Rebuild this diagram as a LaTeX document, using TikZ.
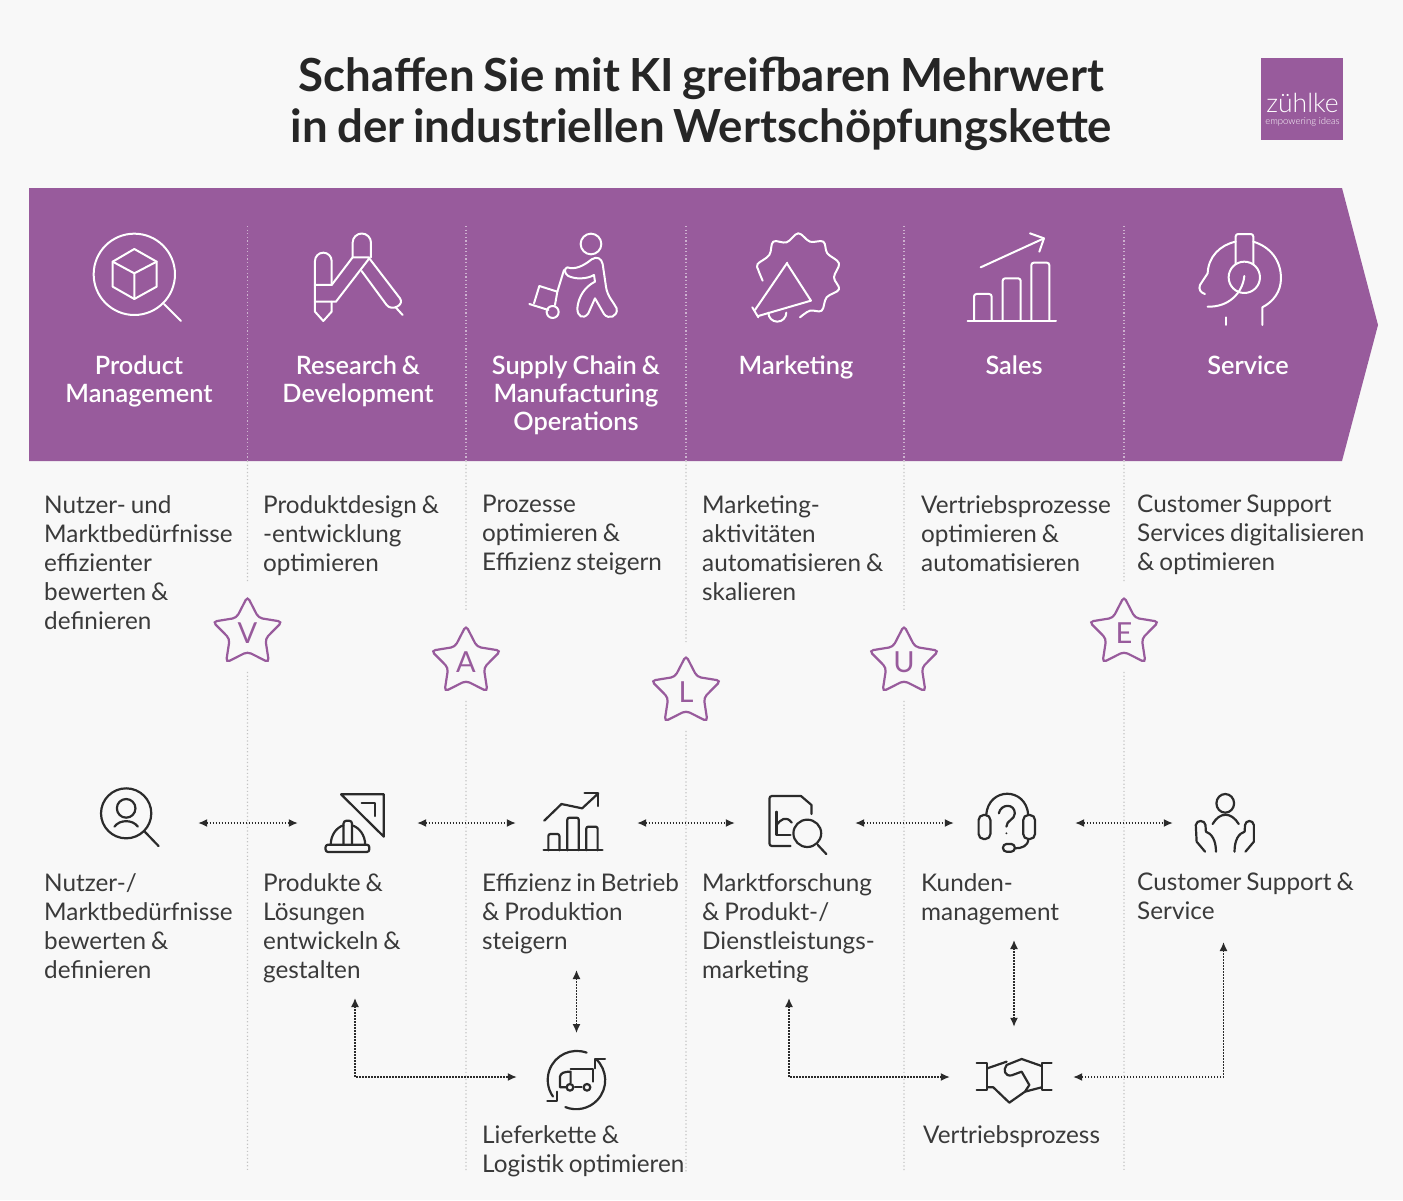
\documentclass[tikz,border=0pt]{standalone}
\usepackage{fontspec}
\setmainfont{Lato}[WordSpace=0.8]
\newfontfamily\latosemi{Lato Semibold}[WordSpace=0.8]
\newfontfamily\latolight{Lato Light}
\usetikzlibrary{arrows.meta,shapes.geometric}
\definecolor{bgcol}{HTML}{F8F8F8}
\definecolor{lila}{HTML}{985B9C}
\definecolor{txtcol}{HTML}{3A3A3A}
\definecolor{inkcol}{HTML}{2B2B2B}
\definecolor{griddark}{HTML}{C4C4C4}
\definecolor{gridlight}{HTML}{CDB2CF}
\tikzset{
  titlebox/.style={align=center, inner sep=0, text=black!85, font=\fontsize{45.6}{50.5}\selectfont\bfseries},
  headbox/.style={anchor=north, align=center, inner sep=0, text=white, font=\fontsize{25.3}{28}\latosemi},
  bodybox/.style={anchor=north west, align=left, inner sep=0, text=txtcol, font=\fontsize{24.3}{29}\selectfont},
  iconbox/.style={inner sep=0, minimum width=#1},
  iconW/.style={draw=white, line width=2pt, line cap=round, line join=round},
  iconB/.style={draw=inkcol, line width=2.2pt, line cap=round, line join=round},
  griddot/.style={line width=1.2pt, dash pattern=on 1.2pt off 2.4pt},
  dotarrow/.style={draw=inkcol, line width=1.4pt, dash pattern=on 1.4pt off 1.6pt, {Latex[length=9pt,width=8pt]}-{Latex[length=9pt,width=8pt]}},
  starbox/.style={star, star points=5, star point ratio=1.95, minimum size=73pt, inner sep=0, draw=lila, line width=2.2pt, rounded corners=4pt, text=lila, font=\fontsize{29}{29}\selectfont},
}
\begin{document}
\begin{tikzpicture}[x=1pt, y=-1pt]
  \useasboundingbox (0,0) rectangle (1403,1200);
  \fill[bgcol] (0,0) rectangle (1403,1200);
  \fill[lila] (29,188) -- (1342,188) -- (1378,325) -- (1342,461) -- (29,461) -- cycle;

  \node[titlebox] (titel) at (701.5,104) {Schaffen Sie mit KI greifbaren Mehrwert\\in der industriellen Wertschöpfungskette};

  \node[fill=lila, minimum width=81.5pt, minimum height=82pt, inner sep=0] (logo) at (1302,99) {};
  \node[text=white, inner sep=0, font=\fontsize{26.5}{27}\latolight] (logoname) at (1302.5,103) {zühlke};
  \node[text=white, inner sep=0, font=\fontsize{9.5}{11}\latolight] (logotag) at (1302.5,122) {empowering ideas};

  \foreach \x/\y/\l in {247.5/633/V, 466/662/A, 686/692/L, 904/662/U, 1124/633/E} {
    \node[starbox] (star\l) at (\x,\y) {\l};
    \coordinate (top\l) at (\x,226);
    \coordinate (band\l) at (\x,461);
    \coordinate (foot\l) at (\x,1172);
    \draw[griddot, gridlight] (top\l) -- (band\l);
    \draw[griddot, griddark, shorten >=11pt] (band\l) -- (star\l.north);
    \draw[griddot, griddark, shorten <=19pt] (star\l.south) -- (foot\l);
  }

  \node[headbox] (headProduct) at (139,356) {Product\\Management};
  \node[headbox] (headResearch) at (358,356) {Research \&\\Development};
  \node[headbox] (headSupply) at (576,356) {Supply Chain \&\\Manufacturing\\Operations};
  \node[headbox] (headMarketing) at (796,356) {Marketing};
  \node[headbox] (headSales) at (1014,356) {Sales};
  \node[headbox] (headService) at (1248,356) {Service};

  \node[bodybox] (textProduct) at (44,495) {Nutzer- und\\Marktbedürfnisse\\effizienter\\bewerten \&\\definieren};
  \node[bodybox] (textResearch) at (263,495) {Produktdesign \&\\-entwicklung\\optimieren};
  \node[bodybox] (textSupply) at (482,495) {Prozesse\\optimieren \&\\Effizienz steigern};
  \node[bodybox] (textMarketing) at (702,495) {Marketing-\\aktivitäten\\automatisieren \&\\skalieren};
  \node[bodybox] (textSales) at (921,495) {Vertriebsprozesse\\optimieren \&\\automatisieren};
  \node[bodybox] (textService) at (1137,495) {Customer Support\\Services digitalisieren\\\& optimieren};

  \node[bodybox] (textNutzer) at (44,873) {Nutzer-/\\Marktbedürfnisse\\bewerten \&\\definieren};
  \node[bodybox] (textProdukte) at (263,873) {Produkte \&\\Lösungen\\entwickeln \&\\gestalten};
  \node[bodybox] (textEffizienz) at (482,873) {Effizienz in Betrieb\\\& Produktion\\steigern};
  \node[bodybox] (textForschung) at (702,873) {Marktforschung\\\& Produkt-/\\Dienstleistungs-\\marketing};
  \node[bodybox] (textKunden) at (921,873) {Kunden-\\management};
  \node[bodybox] (textSupport) at (1137,873) {Customer Support \&\\Service};
  \node[bodybox] (textLogistik) at (482,1125) {Lieferkette \&\\Logistik optimieren};
  \node[bodybox] (textVertrieb) at (923,1125) {Vertriebsprozess};

  % anchors of the lower icons, the arrows stop at their borders
  \node[iconbox=136pt] (iconNutzer) at (130,823) {};
  \node[iconbox=119pt] (iconProdukte) at (357.5,823) {};
  \node[iconbox=121pt] (iconEffizienz) at (576.5,823) {};
  \node[iconbox=120pt] (iconForschung) at (795,823) {};
  \node[iconbox=121pt] (iconKunden) at (1014.5,823) {};
  \node[iconbox=102pt] (iconSupport) at (1224,823) {};
  \node[iconbox=119pt] (iconLogistik) at (576.5,1077) {};
  \node[iconbox=123pt, minimum height=100pt] (iconVertrieb) at (1011.5,1077) {};
  \coordinate (fussProdukte) at (355,998);
  \coordinate (fussEffizienz) at (576.5,970);
  \coordinate (fussForschung) at (789,998);
  \coordinate (fussKunden) at (1014,940);
  \coordinate (fussSupport) at (1223.5,942);
  \coordinate (kopfLogistik) at (576.5,1033);

  \draw[dotarrow] (iconNutzer) -- (iconProdukte);
  \draw[dotarrow] (iconProdukte) -- (iconEffizienz);
  \draw[dotarrow] (iconEffizienz) -- (iconForschung);
  \draw[dotarrow] (iconForschung) -- (iconKunden);
  \draw[dotarrow] (iconKunden) -- (iconSupport);
  \draw[dotarrow] (fussEffizienz) -- (kopfLogistik);
  \draw[dotarrow] (fussKunden) -- (fussKunden |- iconVertrieb.north);
  \draw[dotarrow] (fussProdukte) |- (iconLogistik);
  \draw[dotarrow] (fussForschung) |- (iconVertrieb);
  \draw[dotarrow] (fussSupport) |- (iconVertrieb);

  % band icons
  \begin{scope}[shift={(30,190)}, scale=0.3333]
    \draw[iconW] (313,253) circle (122);
    \draw[iconW] (402,342) -- (453,393);
    \draw[iconW] (313,177) -- (380,215) -- (380,290) -- (313,327) -- (248,290) -- (248,215) -- cycle;
    \draw[iconW] (248,215) -- (313,250) -- (380,215) (313,250) -- (313,327);
    \draw[iconW] (905,285) -- (905,213) arc[start angle=0, end angle=-180, radius=25] -- (855,365) -- (880,393) -- (905,365) -- (905,335);
    \draw[iconW] (855,285) -- (905,285) -- (968,202) -- (1018,202) (855,335) -- (918,335) -- (1018,205);
    \draw[iconW] (968,202) -- (968,158) arc[start angle=-180, end angle=0, radius=27.5] -- (1023,202);
    \draw[iconW] (995,243) -- (1070,345) .. controls (1085,365) and (1125,345) .. (1110,325) -- (1018,205);
    \draw[iconW] (1098,353) -- (1118,375);
  \end{scope}
  \begin{scope}[shift={(480,190)}, scale=0.3333]
    \draw[iconW] (333,162) circle (31);
    \draw[iconW] (262,232) .. controls (285,240) and (310,228) .. (335,208) .. controls (350,198) and (365,205) .. (368,222) -- (378,290) .. controls (382,320) and (400,335) .. (410,355) .. controls (415,380) and (385,390) .. (372,372) -- (345,325) -- (325,370) .. controls (310,390) and (292,380) .. (292,355) .. controls (295,320) and (315,290) .. (345,275) -- (342,255) .. controls (320,268) and (285,268) .. (265,258) .. controls (252,250) and (252,235) .. (262,232);
    \draw[iconW] (252,240) -- (232,305);
    \draw[iconW] (232,305) -- (178,288) -- (162,340);
    \draw[iconW] (232,305) -- (225,345);
    \draw[iconW] (148,342) -- (205,360);
    \draw[iconW] (218,366) circle (18);
    \draw[iconW] plot[smooth, tension=0.6] coordinates {(848,272) (835,240) (833,222) (868,195) (880,155) (920,157) (955,130) (990,155) (1030,155) (1042,190) (1077,220) (1062,262) (1077,298) (1040,322) (1025,362) (990,362) (960,382)};
    \draw[iconW] (922,218) -- (825,360) (922,222) -- (993,332) -- (835,378);
    \draw[iconW] (817,352) -- (835,382);
    \draw[iconW] (865,368) arc[start angle=-180, end angle=-360, radius=27];
  \end{scope}
  \begin{scope}[shift={(930,190)}, scale=0.3333]
    \draw[iconW] (152,232) -- (342,145);
    \draw[iconW] (300,130) -- (342,145) -- (328,185);
    \draw[iconW, rounded corners=2.5pt] (132,392) -- (132,312) -- (185,312) -- (185,392);
    \draw[iconW, rounded corners=2.5pt] (218,392) -- (218,265) -- (272,265) -- (272,392);
    \draw[iconW, rounded corners=2.5pt] (304,392) -- (304,218) -- (358,218) -- (358,392);
    \draw[iconW] (113,392) -- (378,392);
    \draw[iconW, rounded corners=2.5pt] (917,222) -- (917,132) -- (970,132) -- (970,222);
    \draw[iconW] (943,262) circle (47);
    \draw[iconW] (917,155) .. controls (870,165) and (835,200) .. (833,250) -- (810,285) .. controls (805,298) and (812,308) .. (825,312);
    \draw[iconW] (970,155) .. controls (1020,170) and (1053,210) .. (1053,265) .. controls (1053,305) and (1030,335) .. (997,352) -- (997,405);
    \draw[iconW] (943,258) .. controls (938,310) and (895,352) .. (833,350);
    \draw[iconW] (889,382) -- (889,405);
  \end{scope}

  % lower icons
  \begin{scope}[shift={(80,770)}, xscale=0.3444, yscale=0.3333]
    \draw[iconB] (134,130) ellipse (73 and 75);
    \draw[iconB] (188,185) -- (228,228);
    \draw[iconB] (134,115) ellipse (27 and 28);
    \draw[iconB] (100,170) .. controls (115,148) and (153,148) .. (168,170);
    \draw[iconB] (758,73) -- (882,73) -- (882,200) -- cycle;
    \draw[iconB] (818,100) -- (857,100) -- (857,138);
    \draw[iconB, rounded corners=2.5pt] (713,224) rectangle (840,246);
    \draw[iconB] (728,224) .. controls (728,195) and (745,172) .. (765,166) (790,166) .. controls (810,172) and (828,195) .. (828,224);
    \draw[iconB, rounded corners=3pt] (765,224) -- (765,152) -- (790,152) -- (790,224);
    \draw[iconB] (1348,152) -- (1398,102) -- (1458,115) -- (1505,70);
    \draw[iconB] (1465,70) -- (1505,70) -- (1505,108);
    \draw[iconB, rounded corners=2pt] (1360,241) -- (1360,192) -- (1392,192) -- (1392,241);
    \draw[iconB, rounded corners=2pt] (1415,241) -- (1415,143) -- (1448,143) -- (1448,241);
    \draw[iconB, rounded corners=2pt] (1470,241) -- (1470,170) -- (1503,170) -- (1503,241);
    \draw[iconB] (1346,241) -- (1517,241);
  \end{scope}
  \begin{scope}[shift={(620,770)}, xscale=0.4209, yscale=0.3333]
    \draw[iconB, rounded corners=2.5pt] (405,228) -- (355,228) -- (355,78) -- (430,78);
    \draw[iconB] (430,78) -- (455,105) -- (455,132);
    \draw[iconB] (372,125) -- (372,195) -- (405,195);
    \draw[iconB] (372,165) .. controls (380,150) and (395,135) .. (408,158);
    \draw[iconB] (445,190) ellipse (33 and 41);
    \draw[iconB] (470,225) -- (490,252);
    \draw[iconB] (870,135) .. controls (875,50) and (965,50) .. (970,135);
    \draw[iconB, rounded corners=5pt] (868,135) -- (852,135) -- (852,207) -- (880,207) -- (880,135) -- (868,135);
    \draw[iconB, rounded corners=5pt] (972,135) -- (958,135) -- (958,207) -- (986,207) -- (986,135) -- (972,135);
    \draw[iconB] (970,207) .. controls (970,228) and (955,235) .. (938,235);
    \draw[iconB, rounded corners=3.5pt] (924,222) -- (938,222) -- (938,245) -- (910,245) -- (910,222) -- (924,222);
    \draw[iconB] (900,130) .. controls (905,100) and (938,100) .. (938,130) .. controls (938,150) and (918,150) .. (918,170);
    \fill[inkcol] (918,190) ellipse (2.5 and 3);
    \draw[iconB] (1438,100) ellipse (21 and 28);
    \draw[iconB] (1408,162) .. controls (1425,125) and (1452,125) .. (1470,162);
    \draw[iconB] (1390,245) -- (1370,215) -- (1368,165) .. controls (1370,148) and (1390,150) .. (1391,165) -- (1392,185) .. controls (1405,190) and (1416,210) .. (1416,245);
    \draw[iconB] (1486,245) -- (1506,215) -- (1506,165) .. controls (1504,148) and (1486,150) .. (1485,165) -- (1484,185) .. controls (1470,190) and (1460,210) .. (1460,245);
  \end{scope}
  \begin{scope}[shift={(340,960)}, scale=0.3333]
    \draw[iconB] (740,278) arc[start angle=-70, end angle=-215, radius=87];
    \draw[iconB] (622,423) -- (652,423) -- (652,395);
    \draw[iconB] (768,297) arc[start angle=-47, end angle=112, radius=87];
    \draw[iconB] (765,325) -- (765,297) -- (795,297);
    \draw[iconB] (678,382) -- (660,382) -- (660,350) .. controls (662,340) and (670,335) .. (692,335) -- (692,368);
    \draw[iconB] (692,328) -- (758,328) -- (758,365);
    \draw[iconB] (690,382) circle (10) (741,382) circle (10);
    \draw[iconB] (705,382) -- (725,382);
  \end{scope}
  \begin{scope}[shift={(780,930)}, scale=0.3333]
    \draw[iconB] (590,398) -- (622,398) -- (622,480) -- (590,480);
    \draw[iconB] (815,398) -- (785,398) -- (785,480) -- (815,480);
    \draw[iconB] (622,415) -- (680,395);
    \draw[iconB] (785,408) -- (725,387) -- (680,405) .. controls (668,420) and (675,440) .. (695,436) -- (725,425) -- (748,465) -- (735,485) -- (688,518) -- (640,472) -- (622,472);
    \draw[iconB] (735,485) -- (785,472);
  \end{scope}
\end{tikzpicture}
\end{document}
